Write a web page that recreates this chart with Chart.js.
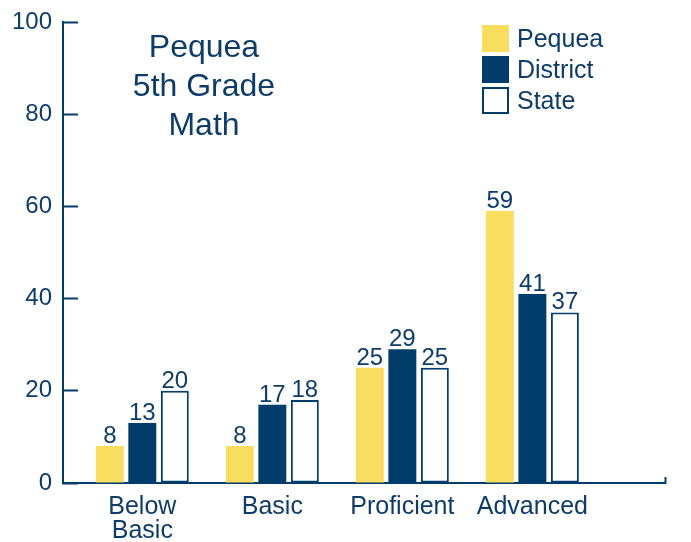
<!DOCTYPE html>
<html>
<head>
<meta charset="utf-8">
<script src="https://cdn.jsdelivr.net/npm/chart.js@4.4.0/dist/chart.umd.min.js"></script>
<style>
  body { margin: 0; background: #fff; }
  #wrap { position: relative; width: 691px; height: 542px; font-family: "Liberation Sans", Arial, sans-serif; color: #0d3c69; }
  #title { position: absolute; left: 104px; top: 27px; width: 200px; text-align: center; font-size: 32px; line-height: 39px; }
  #legend { position: absolute; left: 482px; top: 25px; font-size: 25px; }
  .row { display: flex; align-items: center; height: 27px; margin-bottom: 4px; }
  .box { width: 27px; height: 27px; box-sizing: border-box; margin-right: 8px; }
</style>
</head>
<body>
<div id="wrap">
  <canvas id="chart"></canvas>
  <div id="title">Pequea<br>5th Grade<br>Math</div>
  <div id="legend"></div>
</div>
<script>
// valores
const categories = ['Below Basic', 'Basic', 'Proficient', 'Advanced'];
const seriesNames = ['Pequea', 'District', 'State'];
const pequea = [8, 8, 25, 59];
const district = [13, 17, 29, 41];
const state = [20, 18, 25, 37];
const yTicks = [0, 20, 40, 60, 80, 100];

const navy = '#003d6b';
const textColor = '#0d3c69';
const yellow = '#f9dd5e';
const font = '"Liberation Sans", Arial, sans-serif';
const xMin = -0.61;
const xMax = 4.02;

const toPoints = values => values.map((v, i) => ({ x: i, y: v }));

// etiquetas de valor encima de cada barra
const valueLabels = {
  id: 'valueLabels',
  afterDatasetsDraw(chart) {
    const ctx = chart.ctx;
    ctx.save();
    ctx.font = '24px ' + font;
    ctx.fillStyle = textColor;
    ctx.textAlign = 'center';
    ctx.textBaseline = 'alphabetic';
    chart.data.datasets.forEach((ds, i) => {
      chart.getDatasetMeta(i).data.forEach((bar, j) => {
        ctx.fillText(ds.data[j].y, bar.x, bar.y - 3);
      });
    });
    ctx.restore();
  }
};

const chart = new Chart('chart', {
  type: 'bar',
  data: {
    datasets: [
      { label: seriesNames[0], data: toPoints(pequea), backgroundColor: yellow, borderColor: yellow, borderWidth: 0 },
      { label: seriesNames[1], data: toPoints(district), backgroundColor: navy, borderColor: navy, borderWidth: 0 },
      { label: seriesNames[2], data: toPoints(state), backgroundColor: '#ffffff', borderColor: navy, borderWidth: 2, borderSkipped: false }
    ]
  },
  options: {
    responsive: true,
    maintainAspectRatio: false,
    animation: false,
    categoryPercentage: 0.75,
    barPercentage: 0.86,
    layout: { padding: { top: 22, right: 26, left: 0, bottom: 0 } },
    plugins: { legend: { display: false }, tooltip: { enabled: false } },
    scales: {
      x: {
        type: 'linear',
        min: xMin,
        max: xMax,
        offset: false,
        afterBuildTicks: scale => {
          scale.ticks = categories.map((c, i) => ({ value: i })).concat({ value: xMax });
        },
        afterFit: scale => { scale.height = 59; scale.paddingLeft = 0; scale.paddingRight = 0; },
        border: { display: true, color: navy, width: 2 },
        grid: {
          offset: false,
          drawOnChartArea: false,
          tickLength: -6,
          tickWidth: 2,
          tickColor: ctx => ctx.index === categories.length ? navy : 'rgba(0,0,0,0)'
        },
        ticks: {
          autoSkip: false,
          maxRotation: 0,
          padding: 18,
          color: textColor,
          font: { family: font, size: 25, lineHeight: 0.95 },
          callback: (value, index) => {
            const c = categories[index];
            return c ? c.split(' ') : '';
          }
        }
      },
      y: {
        min: 0,
        max: 100,
        afterBuildTicks: scale => { scale.ticks = yTicks.map(v => ({ value: v })); },
        afterFit: scale => { scale.width = 63; scale.paddingTop = 0; scale.paddingBottom = 0; },
        border: { display: true, color: navy, width: 2 },
        grid: { drawOnChartArea: false, tickLength: -15, tickWidth: 2, tickColor: navy },
        ticks: { padding: 26, color: textColor, font: { family: font, size: 24 } }
      }
    }
  },
  plugins: [valueLabels]
});

// leyenda en HTML a partir de los datasets
const legend = document.getElementById('legend');
chart.data.datasets.forEach(ds => {
  const row = document.createElement('div');
  row.className = 'row';
  const box = document.createElement('span');
  box.className = 'box';
  box.style.background = ds.backgroundColor;
  box.style.border = ds.borderWidth ? ds.borderWidth + 'px solid ' + ds.borderColor : 'none';
  row.appendChild(box);
  row.appendChild(document.createTextNode(ds.label));
  legend.appendChild(row);
});
</script>
</body>
</html>
